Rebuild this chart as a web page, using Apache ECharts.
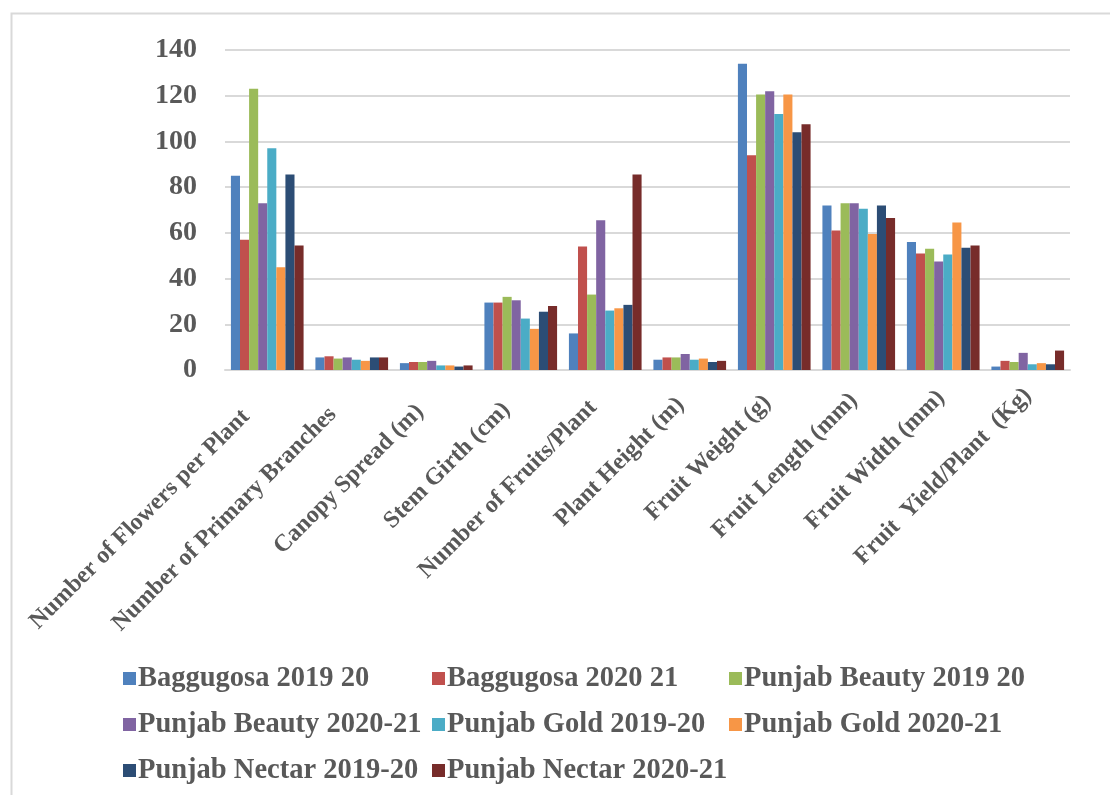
<!DOCTYPE html>
<html>
<head>
<meta charset="utf-8">
<script src="https://cdn.jsdelivr.net/npm/echarts@6/dist/echarts.min.js"></script>
<style>html,body{margin:0;padding:0;background:#fff}#c{width:1110px;height:795px}</style>
</head>
<body>
<div id="c"></div>
<script>
var categories = ['Number of Flowers per Plant', 'Number of Primary Branches', 'Canopy Spread (m)', 'Stem Girth (cm)', 'Number of Fruits/Plant', 'Plant Height (m)', 'Fruit Weight (g)', 'Fruit Length (mm)', 'Fruit Width (mm)', 'Fruit  Yield/Plant  (Kg)'];
var seriesNames = ['Baggugosa 2019 20', 'Baggugosa 2020 21', 'Punjab Beauty 2019 20', 'Punjab Beauty 2020-21', 'Punjab Gold 2019-20', 'Punjab Gold 2020-21', 'Punjab Nectar 2019-20', 'Punjab Nectar 2020-21'];
var baggugosa1920 = [85, 5.5, 3, 29.5, 16, 4.5, 134, 72, 56, 1.5];
var baggugosa2021 = [57, 6, 3.5, 29.5, 54, 5.5, 94, 61, 51, 4];
var beauty1920 = [123, 5, 3.5, 32, 33, 5.5, 120.5, 73, 53, 3.5];
var beauty2021 = [73, 5.5, 4, 30.5, 65.5, 7, 122, 73, 47.5, 7.5];
var gold1920 = [97, 4.5, 2, 22.5, 26, 4.5, 112, 70.5, 50.5, 2.5];
var gold2021 = [45, 4, 2, 18, 27, 5, 120.5, 59.5, 64.5, 3];
var nectar1920 = [85.5, 5.5, 1.5, 25.5, 28.5, 3.5, 104, 72, 53.5, 2.5];
var nectar2021 = [54.5, 5.5, 2, 28, 85.5, 4, 107.5, 66.5, 54.5, 8.5];
var yTicks = [0, 20, 40, 60, 80, 100, 120, 140];

var allData = [baggugosa1920, baggugosa2021, beauty1920, beauty2021, gold1920, gold2021, nectar1920, nectar2021];
var colors = ['#4F81BD', '#C0504D', '#9BBB59', '#8064A2', '#4BACC6', '#F79646', '#2C4D75', '#772C2A'];
var serif = '"Liberation Serif", "DejaVu Serif", serif';
var txt = '#595959';

var chart = echarts.init(document.getElementById('c'), null, {renderer: 'canvas'});

function legendCol(names, left) {
  return {
    orient: 'vertical', left: left, top: 659, itemGap: 17,
    itemWidth: 13, itemHeight: 13, icon: 'rect',
    data: names,
    textStyle: {fontFamily: serif, fontWeight: 'bold', fontSize: 28.5, color: txt, padding: [0, 0, 0, -3]}
  };
}

var n = categories.length;
var catData = categories.map(function (c, i) {
  var p = Math.round(30 * (1 - i / (n - 1)));
  return {value: c, textStyle: {padding: [0, p, 0, 0]}};
});

var option = {
  animation: false,
  color: colors,
  graphic: [{
    type: 'rect', left: 9, top: 11,
    shape: {width: 1300, height: 1000},
    style: {fill: 'none', stroke: '#D9D9D9', lineWidth: 2},
    silent: true
  }],
  legend: [
    legendCol([seriesNames[0], seriesNames[3], seriesNames[6]], 118),
    legendCol([seriesNames[1], seriesNames[4], seriesNames[7]], 427),
    legendCol([seriesNames[2], seriesNames[5]], 724)
  ],
  grid: {left: 225, right: 40, top: 50, bottom: 425, containLabel: false},
  xAxis: {
    type: 'category', data: catData,
    axisLine: {show: true, lineStyle: {color: '#D9D9D9', width: 2}},
    axisTick: {show: false},
    axisLabel: {interval: 0, rotate: 45, margin: 22, fontFamily: serif, fontWeight: 'bold', fontSize: 24, color: txt}
  },
  yAxis: {
    type: 'value', min: yTicks[0], max: yTicks[yTicks.length - 1], interval: 20,
    axisLine: {show: false}, axisTick: {show: false},
    splitLine: {lineStyle: {color: '#D9D9D9', width: 2}},
    axisLabel: {margin: 28, fontFamily: serif, fontWeight: 'bold', fontSize: 28, color: txt,
      formatter: function (v) { return yTicks.indexOf(v) >= 0 ? String(v) : ''; }}
  },
  series: seriesNames.map(function (nm, i) {
    return {
      name: nm, type: 'bar', data: allData[i],
      barGap: '0%', barCategoryGap: '14%',
      itemStyle: {color: colors[i]}
    };
  })
};
chart.setOption(option);
</script>
</body>
</html>
